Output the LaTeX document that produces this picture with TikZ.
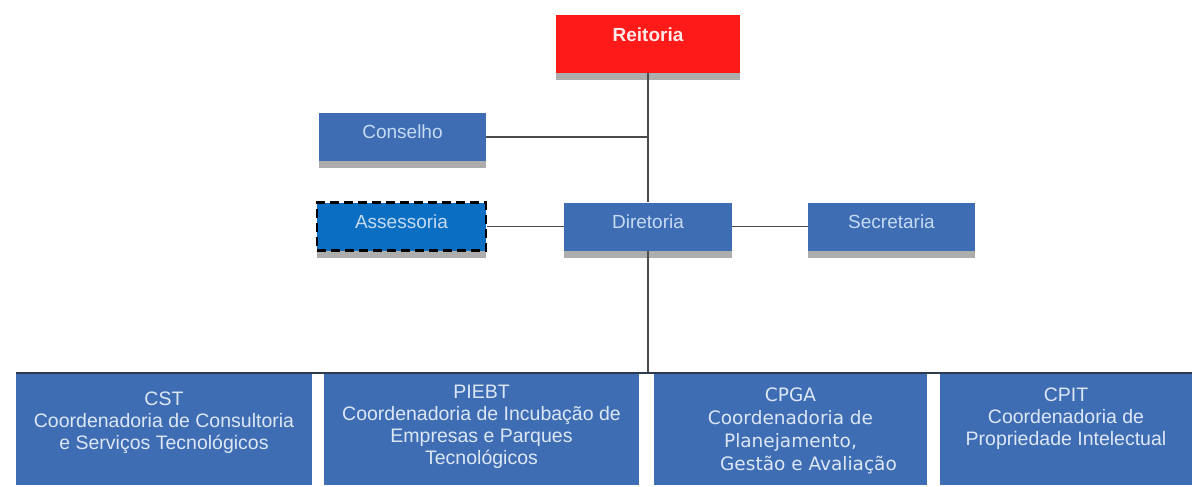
\documentclass[tikz,border=0pt]{standalone}
\usepackage{fontspec}
\setmainfont{Liberation Sans}
\newfontfamily\verdanafont{DejaVu Sans}
\usetikzlibrary{shadows}
\definecolor{boxblue}{HTML}{3E6DB4}
\definecolor{assblue}{HTML}{0A6FC2}
\definecolor{reitred}{HTML}{FF1A1A}
\definecolor{labelblue}{HTML}{C6DAF2}
\definecolor{lowtext}{HTML}{DDE7F4}
\definecolor{reittext}{HTML}{FFE8E8}
\definecolor{shadowgray}{HTML}{ADADAD}
\definecolor{linegray}{HTML}{4A4A4A}
\definecolor{busnavy}{HTML}{2E3A4E}
\begin{document}
\begin{tikzpicture}[x=1pt, y=-1pt,
    unit/.style={rectangle, fill=boxblue, text=labelblue, minimum width=167pt, minimum height=48pt, inner sep=0pt, font=\fontsize{19}{22}\selectfont, text height=14pt, text depth=10pt, drop shadow={shadow xshift=0pt, shadow yshift=-7pt, fill=shadowgray, opacity=1}},
    head/.style={unit, fill=reitred, text=reittext, minimum width=184pt, minimum height=58pt, text depth=18pt, font=\fontsize{19}{22}\selectfont\bfseries},
    staff/.style={unit, fill=assblue, draw=black, line width=2.5pt, dash pattern=on 9pt off 5pt},
    coord/.style={rectangle, fill=boxblue, text=lowtext, minimum height=112pt, inner sep=0pt, align=center, font=\fontsize{19.5}{22}\selectfont, text depth=5pt},
    link/.style={draw=linegray, line width=1.5pt},
    bus/.style={draw=busnavy, line width=2pt}
]
\useasboundingbox (0,0) rectangle (1195,487);
% upper levels
\node[head] (reitoria) at (648,44) {Reitoria};
\node[unit] (conselho) at (402.5,137) {Conselho};
\node[staff, minimum width=169pt] (assessoria) at (401.5,226.5) {Assessoria};
\node[unit, minimum width=168pt] (diretoria) at (648,226.5) {Diretoria};
\node[unit] (secretaria) at (891.5,226.5) {Secretaria};
% coordenadorias
\node[coord, minimum width=296pt, text height=45pt] (cst) at (164,429) {CST\\Coordenadoria de Consultoria\\e Serviços Tecnológicos};
\node[coord, minimum width=315pt, text height=75pt, font=\fontsize{19.5}{21.7}\selectfont] (piebt) at (481.5,429) {PIEBT\\Coordenadoria de Incubação de\\Empresas e Parques\\Tecnológicos};
\node[coord, minimum width=273pt, text height=87pt, font=\verdanafont\fontsize{18.5}{23}\selectfont] (cpga) at (790.5,429) {CPGA\\Coordenadoria de\\Planejamento,\\\hspace*{36pt}Gestão e Avaliação};
\node[coord, minimum width=252pt, text height=37pt] (cpit) at (1066,429) {CPIT\\Coordenadoria de\\Propriedade Intelectual};
\coordinate (junction) at (648,373);
% connectors
\draw[link] (reitoria.south) -- (diretoria.north);
\draw[link] (conselho.east) -- (conselho.east -| reitoria.south);
\draw[link] (assessoria) -- (diretoria);
\draw[link] (diretoria) -- (secretaria);
\draw[link] (diretoria.south) -- (junction);
\draw[bus] (cst.north west) -- (cpit.north east);
\end{tikzpicture}
\end{document}
